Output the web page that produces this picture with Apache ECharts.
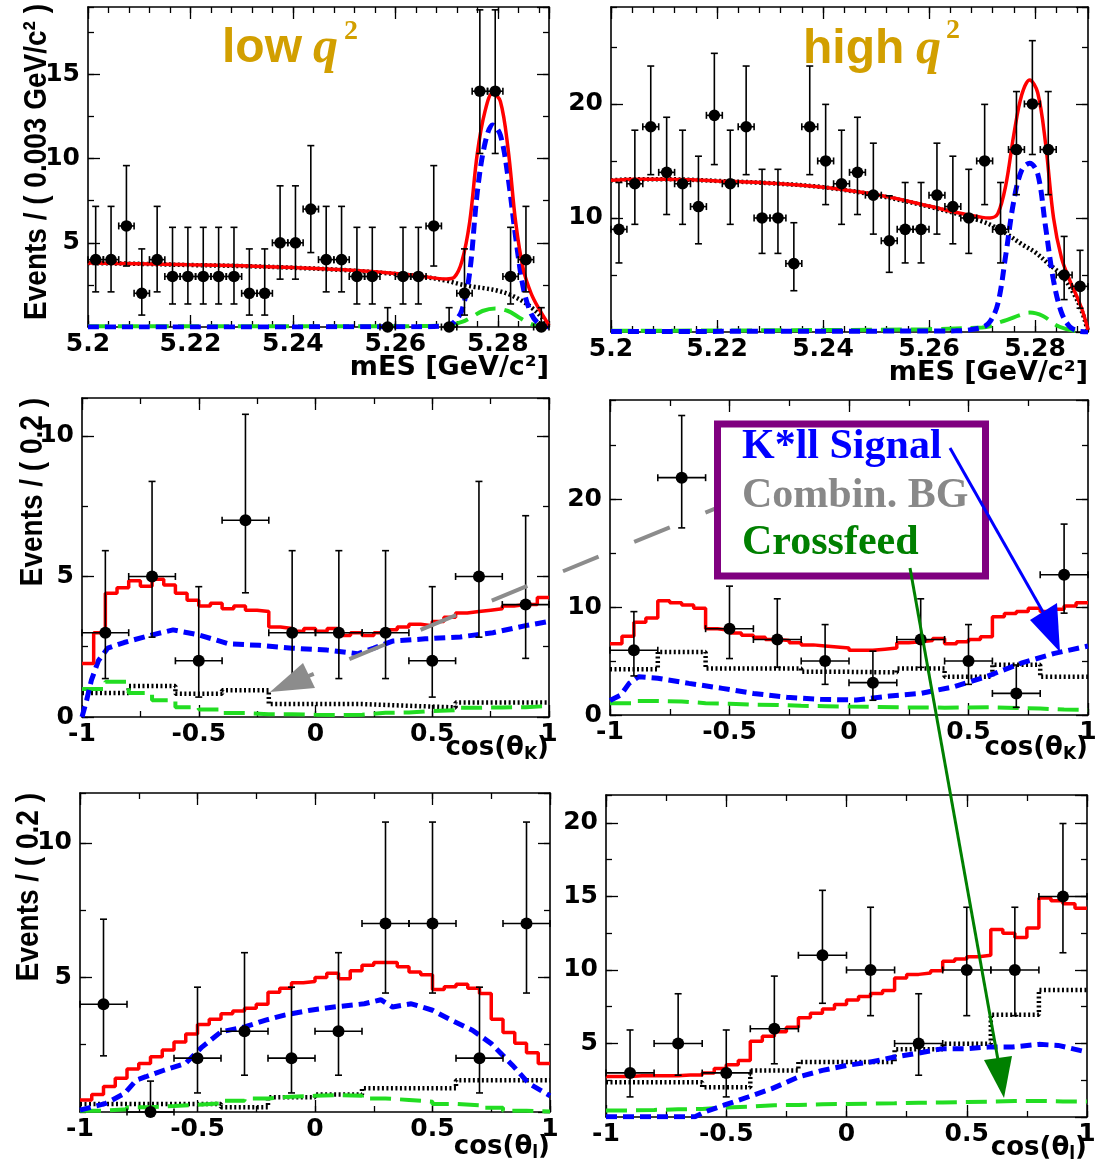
<!DOCTYPE html>
<html><head><meta charset="utf-8">
<script src="https://cdn.jsdelivr.net/npm/echarts@6/dist/echarts.min.js"></script>
<style>html,body{margin:0;padding:0;background:#fff}#c{width:1100px;height:1164px}</style>
</head><body><div id="c"></div>
<script>
// ================= DATA =================
// mES histograms: 30 bins of 0.003 GeV/c^2 starting at 5.2
const mesBinLo = 5.2, mesBinW = 0.003;
const lowMesCounts  = [4,4,6,2,4,3,3,3,3,3,2,2,5,5,7,4,4,3,3,0,3,3,6,0,2,14,14,3,4,0];
const highMesCounts = [9,13,18,14,13,11,19,13,18,10,10,6,18,15,13,14,12,8,9,9,12,11,10,15,9,16,20,16,5,4];
// angular histograms: 10 bins of 0.2 from -1
const cosBinLo = -1, cosBinW = 0.2;
const lowCosKCounts  = [3,5,2,7,3,3,3,2,5,4];
const highCosKCounts = [6,22,8,7,5,3,7,5,2,13];
const lowCosLCounts  = [4,0,2,3,2,3,7,7,2,7];
const highCosLCounts = [3,5,3,6,11,10,5,10,10,15];
// Poisson (68%) asymmetric errors by count
const poissonErrLo = [0,0.827,1.292,1.633,1.914,2.159,2.380,2.581,2.768,2.943,3.108,3.266,3.416,3.559,3.697,3.829,3.957,4.082,4.202,4.319,4.434,4.547,4.655];
const poissonErrHi = [1.148,2.299,2.637,2.918,3.162,3.382,3.583,3.770,3.945,4.110,4.266,4.416,4.559,4.697,4.831,4.960,5.085,5.206,5.323,5.437,5.548,5.657,5.762];

// mES fit projections [mES, events]
const lowMesBg = [[5.2,3.8],[5.21,3.75],[5.22,3.68],[5.23,3.62],[5.24,3.52],[5.25,3.38],[5.26,3.15],[5.265,3.0],[5.27,2.75],[5.2725,2.55],[5.275,2.4],[5.2775,2.3],[5.28,2.15],[5.2825,1.9],[5.285,1.5],[5.287,1.05],[5.2885,0.6],[5.29,0]];
const lowMesTot = [[5.2,3.8],[5.21,3.75],[5.22,3.69],[5.23,3.63],[5.24,3.53],[5.25,3.4],[5.26,3.18],[5.265,3.02],[5.27,2.85],[5.2715,2.95],[5.273,3.9],[5.2745,6.2],[5.276,10.3],[5.2775,12.8],[5.279,13.9],[5.2805,13.4],[5.282,10.6],[5.2835,6.2],[5.285,3.4],[5.2865,2.0],[5.288,1.1],[5.29,0.1]];
const lowMesSig = [[5.2,0],[5.265,0.02],[5.27,0.08],[5.2715,0.3],[5.273,1.0],[5.2745,3.2],[5.276,8.0],[5.2775,10.9],[5.279,12.0],[5.2805,11.4],[5.282,8.9],[5.2835,5.3],[5.285,2.3],[5.2865,0.8],[5.288,0.2],[5.29,0]];
const lowMesCross = [[5.2,0.05],[5.26,0.05],[5.27,0.1],[5.273,0.3],[5.275,0.6],[5.277,0.95],[5.2795,1.1],[5.282,0.95],[5.284,0.6],[5.286,0.25],[5.288,0.05],[5.29,0]];

const highMesBg = [[5.2,13.3],[5.205,13.4],[5.21,13.4],[5.215,13.35],[5.22,13.25],[5.23,13.05],[5.24,12.7],[5.25,12.0],[5.26,11.0],[5.265,10.4],[5.27,9.7],[5.2725,9.2],[5.275,8.5],[5.2775,7.7],[5.28,7.0],[5.2825,6.0],[5.285,5.0],[5.2875,3.2],[5.289,1.6],[5.29,0]];
const highMesTot = [[5.2,13.3],[5.205,13.4],[5.21,13.4],[5.215,13.35],[5.22,13.25],[5.23,13.05],[5.24,12.7],[5.25,12.05],[5.26,11.05],[5.265,10.5],[5.27,10.05],[5.2715,10.0],[5.273,10.4],[5.2745,12.9],[5.276,17.3],[5.2775,20.8],[5.279,22.1],[5.2805,21.0],[5.282,16.5],[5.2835,10.0],[5.285,6.5],[5.2865,4.6],[5.288,3.0],[5.289,1.8],[5.29,0.2]];
const highMesSig = [[5.2,0.05],[5.265,0.1],[5.27,0.4],[5.2715,0.9],[5.273,2.5],[5.2745,6.8],[5.276,11.5],[5.2775,14.2],[5.279,14.8],[5.2805,13.9],[5.282,9.2],[5.2835,4.5],[5.285,1.7],[5.2865,0.5],[5.288,0.1],[5.29,0]];
const highMesCross = [[5.2,0.1],[5.23,0.15],[5.26,0.25],[5.27,0.4],[5.2715,0.5],[5.273,0.8],[5.275,1.1],[5.277,1.45],[5.279,1.7],[5.2815,1.4],[5.284,0.6],[5.286,0.25],[5.2875,0.1],[5.29,0]];

// angular fit projections: histogram bin contents over [-1,1]
const lowCosKTot = [1.9,3.0,4.4,4.6,4.85,4.65,4.9,4.7,4.4,4.15,3.95,4.05,3.85,3.95,3.8,3.75,3.2,3.15,3.05,3.15,3.05,3.15,2.9,3.0,2.9,3.0,3.1,3.2,3.3,3.25,3.4,3.55,3.7,3.75,3.8,3.85,3.95,4.0,4.0,4.25];
const lowCosKBg = [0.85,1.1,0.83,0.95,0.46,0.46,0.40,0.34,0.52,0.52];
const lowCosKCross = [1.0,1.25,0.85,0.6,0.35,0.27,0.14,0.1,0.1,0.08,0.07,0.08,0.15,0.16,0.21,0.24,0.33,0.34,0.35,0.39];
const lowCosKSig = [[-1,0],[-0.98,0.6],[-0.96,1.3],[-0.93,2.0],[-0.89,2.45],[-0.82,2.65],[-0.71,2.9],[-0.61,3.1],[-0.5,2.92],[-0.37,2.6],[-0.24,2.55],[-0.1,2.45],[0.05,2.38],[0.18,2.25],[0.25,2.45],[0.33,2.7],[0.47,2.78],[0.62,2.85],[0.76,3.0],[0.9,3.25],[1,3.4]];

const highCosKTot = [6.6,7.3,8.6,9.0,10.6,10.4,10.2,9.9,8.0,7.85,7.6,7.4,7.2,7.0,6.9,6.7,6.5,6.4,6.3,6.2,6.0,6.0,6.1,6.2,6.7,6.8,6.9,7.1,6.6,6.8,7.0,7.25,9.1,9.4,9.6,9.9,9.6,9.8,10.1,10.4];
const highCosKBg = [4.25,5.85,4.3,4.3,4.0,3.95,4.3,3.55,4.65,3.55];
const highCosKCross = [1.1,1.3,1.25,1.1,1.05,0.95,0.93,0.85,0.82,0.78,0.75,0.71,0.7,0.68,0.7,0.71,0.65,0.6,0.5,0.46];
const highCosKSig = [[-1,1.35],[-0.955,1.85],[-0.92,2.93],[-0.88,3.55],[-0.8,3.4],[-0.67,2.93],[-0.53,2.47],[-0.4,2.0],[-0.26,1.64],[-0.12,1.45],[0.03,1.39],[0.17,1.76],[0.3,2.0],[0.44,2.62],[0.58,3.6],[0.72,4.8],[0.86,5.71],[1,6.39]];

const lowCosLTot = [0.45,0.65,0.95,1.25,1.6,1.8,2.05,2.3,2.6,2.9,3.25,3.45,3.65,3.75,3.85,4.0,4.45,4.6,4.8,4.85,5.0,5.15,4.95,5.25,5.45,5.55,5.55,5.4,5.2,5.1,4.55,4.65,4.75,4.6,4.4,3.45,2.95,2.55,2.2,1.8];
const lowCosLBg = [0.3,0.3,0.3,0.18,0.55,0.65,0.88,0.88,1.18,1.18];
const lowCosLCross = [0.05,0.1,0.18,0.22,0.27,0.32,0.42,0.5,0.57,0.6,0.63,0.6,0.5,0.45,0.38,0.3,0.25,0.16,0.05,0.02];
const lowCosLSig = [[-1,0.07],[-0.89,0.32],[-0.81,0.69],[-0.76,1.19],[-0.72,1.31],[-0.64,1.56],[-0.55,1.81],[-0.48,2.42],[-0.4,2.98],[-0.3,3.16],[-0.21,3.41],[-0.13,3.6],[-0.02,3.78],[0.08,3.9],[0.21,4.02],[0.28,4.17],[0.33,3.9],[0.41,4.02],[0.5,3.78],[0.58,3.41],[0.67,3.04],[0.75,2.54],[0.84,1.74],[0.91,1.06],[1,0.6]];

const highCosLTot = [2.75,2.75,2.8,2.8,2.8,2.8,2.85,2.85,3.0,3.3,3.55,3.85,5.15,5.5,5.8,6.1,6.75,7.05,7.35,7.65,7.95,8.2,8.4,8.6,9.45,9.7,9.8,9.95,10.6,10.75,10.9,11.0,12.75,12.5,12.2,12.85,14.9,14.7,14.5,14.2];
const highCosLBg = [2.37,2.37,2.03,3.17,3.74,3.74,4.6,4.98,6.95,8.63];
const highCosLCross = [0.45,0.48,0.52,0.55,0.65,0.7,0.8,0.82,0.87,0.88,0.91,0.93,0.97,0.99,1.02,1.04,1.08,1.09,1.06,1.05];
const highCosLSig = [[-1,0.02],[-0.63,0.02],[-0.59,0.34],[-0.51,0.8],[-0.41,1.36],[-0.31,1.93],[-0.2,2.72],[-0.1,3.17],[0,3.51],[0.1,3.74],[0.2,4.08],[0.3,4.35],[0.4,4.65],[0.5,4.65],[0.59,4.76],[0.69,4.76],[0.8,4.94],[0.88,4.87],[1,4.42]];

// ================= LAYOUT =================
const panels = [
  {g:{left:88,top:7,width:461,height:320}, xr:[5.2,5.29,0.02,0.004], yr:[0,19,5,2.5], y0:false, xMax:false,
   counts:lowMesCounts, lo:mesBinLo, w:mesBinW, r:5.8, smooth:true, tot:lowMesTot, bg:lowMesBg, sig:lowMesSig, cross:lowMesCross},
  {g:{left:611,top:7,width:477,height:325}, xr:[5.2,5.29,0.02,0.004], yr:[0,28.5,10,5], y0:false, xMax:false,
   counts:highMesCounts, lo:mesBinLo, w:mesBinW, r:5.8, smooth:true, tot:highMesTot, bg:highMesBg, sig:highMesSig, cross:highMesCross},
  {g:{left:82,top:398,width:467,height:319}, xr:[-1,1,0.5,0.25], yr:[0,11.35,5,2.5], y0:true, xMax:true,
   counts:lowCosKCounts, lo:cosBinLo, w:cosBinW, r:6, smooth:false, tot:lowCosKTot, bg:lowCosKBg, sig:lowCosKSig, cross:lowCosKCross},
  {g:{left:610,top:400,width:478,height:315}, xr:[-1,1,0.5,0.25], yr:[0,29.2,10,5], y0:true, xMax:true,
   counts:highCosKCounts, lo:cosBinLo, w:cosBinW, r:6, smooth:false, tot:highCosKTot, bg:highCosKBg, sig:highCosKSig, cross:highCosKCross},
  {g:{left:80,top:793,width:470,height:319}, xr:[-1,1,0.5,0.25], yr:[0,11.85,5,2.5], y0:false, xMax:true,
   counts:lowCosLCounts, lo:cosBinLo, w:cosBinW, r:6, smooth:false, tot:lowCosLTot, bg:lowCosLBg, sig:lowCosLSig, cross:lowCosLCross},
  {g:{left:606,top:795,width:481,height:322}, xr:[-1,1,0.5,0.25], yr:[0,21.9,5,2.5], y0:false, xMax:true,
   counts:highCosLCounts, lo:cosBinLo, w:cosBinW, r:6, smooth:false, tot:highCosLTot, bg:highCosLBg, sig:highCosLSig, cross:highCosLCross}
];

const LBL = {fontFamily:'DejaVu Sans', fontWeight:'bold', fontSize:25, color:'#000'};
const ST = {
  red:{color:'#ff0000', width:3.5, type:'solid'},
  blue:{color:'#0000ff', width:5, type:[11,6]},
  black:{color:'#000000', width:4.5, type:[2,2.5]},
  green:{color:'#22dd22', width:4, type:[21,9]}
};

function stepData(values, lo, hi) {
  const w = (hi - lo) / values.length;
  const d = values.map((v, i) => [lo + i * w, v]);
  d.push([hi, values[values.length - 1]]);
  return d;
}
const fmt = v => String(+(+v).toFixed(3));

const grids = [], xAxes = [], yAxes = [], series = [];
panels.forEach((p, gi) => {
  grids.push(Object.assign({containLabel:false}, p.g));
  const mk = (dim, rng, pos, labeled, isMajor) => ({
    type:'value', gridIndex:gi, position:pos, min:rng[0], max:rng[1],
    interval:isMajor ? rng[2] : rng[3],
    axisLine:{show:isMajor, onZero:false, lineStyle:{color:'#000', width:1.6}},
    axisTick:{show:true, inside:true, length:isMajor ? 12 : 6, lineStyle:{color:'#000', width:1.3}},
    axisLabel:{show:labeled, ...LBL, margin:dim === 'x' ? 5 : 8,
      showMinLabel:dim === 'x' ? true : p.y0, showMaxLabel:dim === 'x' ? p.xMax : false, formatter:fmt},
    splitLine:{show:false}, minorTick:{show:false}, scale:false
  });
  const xi = xAxes.length, yi = yAxes.length;
  xAxes.push(mk('x', p.xr, 'bottom', true, true), mk('x', p.xr, 'bottom', false, false),
             mk('x', p.xr, 'top', false, true), mk('x', p.xr, 'top', false, false));
  yAxes.push(mk('y', p.yr, 'left', true, true), mk('y', p.yr, 'left', false, false),
             mk('y', p.yr, 'right', false, true), mk('y', p.yr, 'right', false, false));
  const base = {xAxisIndex:xi, yAxisIndex:yi, symbol:'none', silent:true, animation:false, clip:true};
  if (p.smooth) {
    series.push({...base, type:'line', z:2, smooth:0.35, data:p.bg, lineStyle:ST.black});
    series.push({...base, type:'line', z:3, smooth:0.35, data:p.cross, lineStyle:ST.green});
    series.push({...base, type:'line', z:4, smooth:0.35, data:p.sig, lineStyle:ST.blue});
    series.push({...base, type:'line', z:5, smooth:0.35, data:p.tot, lineStyle:ST.red});
  } else {
    series.push({...base, type:'line', z:2, step:'end', data:stepData(p.bg, -1, 1), lineStyle:ST.black});
    series.push({...base, type:'line', z:3, step:'end', data:stepData(p.cross, -1, 1), lineStyle:ST.green});
    series.push({...base, type:'line', z:4, data:p.sig, lineStyle:ST.blue});
    series.push({...base, type:'line', z:5, step:'end', data:stepData(p.tot, -1, 1), lineStyle:ST.red});
  }
  const half = p.w / 2;
  series.push({
    type:'custom', xAxisIndex:xi, yAxisIndex:yi, z:10, clip:false, silent:true, animation:false,
    data:p.counts.map((n, i) => {
      const c = p.lo + p.w * (i + 0.5);
      return [c, n, n - poissonErrLo[n], n + poissonErrHi[n], c - half, c + half];
    }),
    renderItem:(params, api) => {
      const pt = api.coord([api.value(0), api.value(1)]);
      const lo = api.coord([api.value(0), api.value(2)]);
      const hi = api.coord([api.value(0), api.value(3)]);
      const l = api.coord([api.value(4), api.value(1)]);
      const rr = api.coord([api.value(5), api.value(1)]);
      const st = {stroke:'#000', lineWidth:1.6};
      const cap = 3.5;
      const ch = [
        {type:'line', shape:{x1:pt[0], y1:lo[1], x2:pt[0], y2:hi[1]}, style:st},
        {type:'line', shape:{x1:pt[0]-cap, y1:hi[1], x2:pt[0]+cap, y2:hi[1]}, style:st},
        {type:'line', shape:{x1:l[0], y1:pt[1], x2:rr[0], y2:pt[1]}, style:st},
        {type:'line', shape:{x1:l[0], y1:pt[1]-cap, x2:l[0], y2:pt[1]+cap}, style:st},
        {type:'line', shape:{x1:rr[0], y1:pt[1]-cap, x2:rr[0], y2:pt[1]+cap}, style:st},
        {type:'circle', shape:{cx:pt[0], cy:pt[1], r:p.r}, style:{fill:'#000'}}
      ];
      if (api.value(1) > 0) ch.push({type:'line', shape:{x1:pt[0]-cap, y1:lo[1], x2:pt[0]+cap, y2:lo[1]}, style:st});
      return {type:'group', children:ch};
    }
  });
});

// ================= TEXT & ANNOTATIONS =================
const GOLD = '#d29f00';
const sansB = px => `bold ${px}px "Liberation Sans"`;
const dejaB = px => `bold ${px}px "DejaVu Sans"`;
const txt = (x, y, text, font, fill, align, rot, sy) => ({
  type:'text', x, y, rotation:rot || 0, scaleY:sy || 1, z:100, silent:true,
  style:{text, font, fill, align:align || 'left', verticalAlign:'middle'}
});
const richTxt = (x, y, base, sub, tail) => ({
  type:'text', x, y, z:100, silent:true,
  style:{text:`{a|${base}}{s|${sub}}{a|${tail}}`, align:'right', verticalAlign:'middle',
    rich:{a:{font:dejaB(26), fill:'#000', lineHeight:30},
          s:{font:dejaB(17), fill:'#000', lineHeight:8, verticalAlign:'bottom'}}}
});

const graphic = [
  // titles
  txt(222, 49, 'low', sansB(48), GOLD),
  txt(313, 49, 'q', `italic bold 50px "Liberation Serif"`, GOLD),
  txt(344, 32, '2', `bold 28px "Liberation Serif"`, GOLD),
  txt(803, 50, 'high', sansB(48), GOLD),
  txt(916, 50, 'q', `italic bold 50px "Liberation Serif"`, GOLD),
  txt(946, 31, '2', `bold 28px "Liberation Serif"`, GOLD),
  // y titles (rotated, slightly widened like the reference)
  txt(37, 4, 'Events / ( 0.003 GeV/c² )', sansB(28), '#000', 'right', Math.PI / 2, 1.15),
  txt(33, 398, 'Events / ( 0.2 )', sansB(28), '#000', 'right', Math.PI / 2, 1.15),
  txt(29, 793, 'Events / ( 0.2 )', sansB(28), '#000', 'right', Math.PI / 2, 1.15),
  // x titles
  txt(549, 368, 'mES [GeV/c²]', dejaB(27), '#000', 'right'),
  txt(1088, 373, 'mES [GeV/c²]', dejaB(27), '#000', 'right'),
  richTxt(549, 748, 'cos(θ', 'K', ')'),
  richTxt(1088, 748, 'cos(θ', 'K', ')'),
  richTxt(550, 1147, 'cos(θ', 'l', ')'),
  richTxt(1087, 1148, 'cos(θ', 'l', ')'),
  // gray dashed arrow (Combin. BG)
  {type:'line', z:100, silent:true, shape:{x1:741, y1:498, x2:306, y2:677},
   style:{stroke:'#8c8c8c', lineWidth:4, lineDash:[38.5, 38.5]}},
  {type:'polygon', z:100, silent:true, shape:{points:[[270,692],[303,663],[315,688]]}, style:{fill:'#8c8c8c'}},
  // legend box
  {type:'rect', z:101, silent:true, shape:{x:717.5, y:424, width:268, height:152},
   style:{fill:'#ffffff', stroke:'#800080', lineWidth:7}},
  // blue arrow
  {type:'line', z:102, silent:true, shape:{x1:950, y1:448, x2:1043, y2:612}, style:{stroke:'#0000ff', lineWidth:3}},
  {type:'polygon', z:102, silent:true, shape:{points:[[1060,652],[1030,620],[1057,603]]}, style:{fill:'#0000ff'}},
  // green arrow
  {type:'line', z:102, silent:true, shape:{x1:910, y1:568, x2:998, y2:1060}, style:{stroke:'#008000', lineWidth:3}},
  {type:'polygon', z:102, silent:true, shape:{points:[[1004,1098],[984,1060],[1012,1056]]}, style:{fill:'#008000'}}
];
const legendTexts = [
  txt(742, 447, 'K*ll Signal', `bold 42px "Liberation Serif"`, '#0000ff', 'left'),
  txt(742, 496, 'Combin. BG', `bold 42px "Liberation Serif"`, '#888888', 'left'),
  txt(742, 543, 'Crossfeed', `bold 42px "Liberation Serif"`, '#008000', 'left')
];
legendTexts.forEach(t => { t.z = 103; graphic.push(t); });

const chart = echarts.init(document.getElementById('c'), null, {renderer:'canvas'});
chart.setOption({
  animation:false, backgroundColor:'#ffffff',
  grid:grids, xAxis:xAxes, yAxis:yAxes, series, graphic
});
</script>
</body></html>
